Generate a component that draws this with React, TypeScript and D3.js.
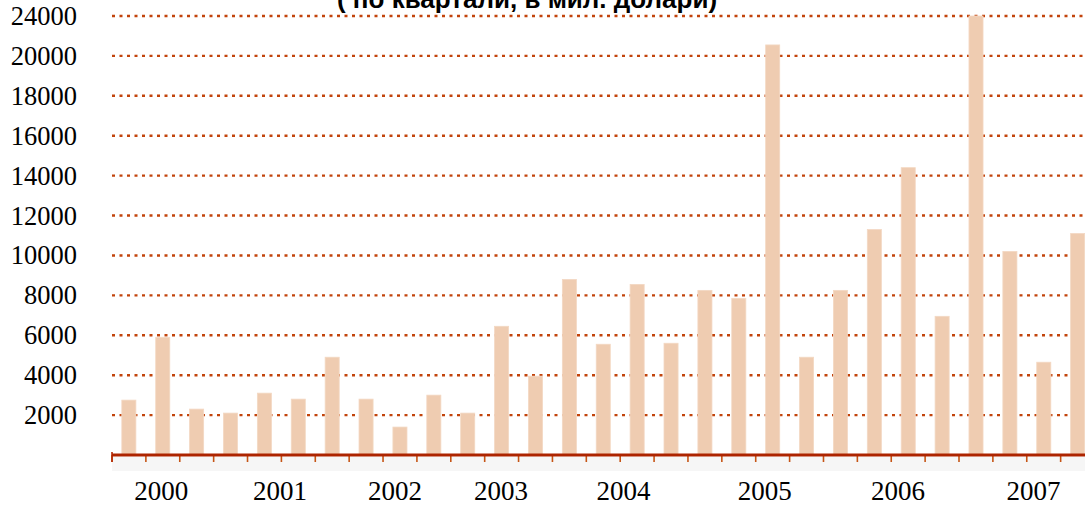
import React, { useEffect, useRef } from "react";
import * as d3 from "d3";

// quarterly values, 2000 Q1 .. 2007 Q1 (mil. USD)
const quarters = [
  "2000Q1", "2000Q2", "2000Q3", "2000Q4",
  "2001Q1", "2001Q2", "2001Q3", "2001Q4",
  "2002Q1", "2002Q2", "2002Q3", "2002Q4",
  "2003Q1", "2003Q2", "2003Q3", "2003Q4",
  "2004Q1", "2004Q2", "2004Q3", "2004Q4",
  "2005Q1", "2005Q2", "2005Q3", "2005Q4",
  "2006Q1", "2006Q2", "2006Q3", "2006Q4",
  "2007Q1",
];
const values = [
  2750, 5900, 2300, 2100,
  3100, 2800, 4900, 2800,
  1400, 3000, 2100, 6450,
  3950, 8800, 5550, 8550,
  5600, 8250, 7850, 20550,
  4900, 8250, 11300, 14400,
  6950, 22000, 10200, 4650,
  11100,
];

// y ticks and the labels printed next to them (top one reads 24000 in the original)
const tickValues = [2000, 4000, 6000, 8000, 10000, 12000, 14000, 16000, 18000, 20000, 22000];
const tickLabels = ["2000", "4000", "6000", "8000", "10000", "12000", "14000", "16000", "18000", "20000", "24000"];

// year labels and where they sit, in quarter steps from the left edge
const years = ["2000", "2001", "2002", "2003", "2004", "2005", "2006", "2007"];
const yearPos = [1.45, 4.96, 8.35, 11.48, 15.1, 19.27, 23.2, 27.2];

const title = "( по квартали, в мил. долари)";

const App = () => {
  const svgRef = useRef(null);

  useEffect(() => {
    const width = 1085;
    const left = 112;
    const step = 33.88;
    const base = 455;

    const svg = d3.select(svgRef.current);
    svg.selectAll("*").remove();

    const x = d3
      .scaleBand()
      .domain(quarters)
      .range([left, left + step * quarters.length])
      .paddingInner(0.585)
      .paddingOuter(0.29);
    const y = d3.scaleLinear().domain([0, 22000]).range([base, 16]);
    const q = d3.scaleLinear().domain([0, 1]).range([left, left + step]);

    // dotted grid lines (behind the bars)
    svg
      .selectAll(".grid")
      .data(tickValues)
      .enter()
      .append("line")
      .attr("x1", left)
      .attr("x2", width)
      .attr("y1", (d) => y(d))
      .attr("y2", (d) => y(d))
      .attr("stroke", "#c2440c")
      .attr("stroke-width", 2.4)
      .attr("stroke-dasharray", "3,4.5");

    // faint shadow below the axis
    svg
      .append("rect")
      .attr("x", left)
      .attr("y", base + 2)
      .attr("width", width - left)
      .attr("height", 14)
      .attr("fill", "#f6f6f6");

    // bars
    svg
      .selectAll(".bar")
      .data(values)
      .enter()
      .append("rect")
      .attr("x", (d, i) => x(quarters[i]))
      .attr("width", x.bandwidth())
      .attr("y", (d) => y(d))
      .attr("height", (d) => base - y(d))
      .attr("fill", "#efccb1")
      .attr("stroke", "#f3d8c3")
      .attr("stroke-width", 0.8);

    // tick marks at the category boundaries
    svg
      .selectAll(".tick")
      .data(d3.range(quarters.length + 1))
      .enter()
      .append("line")
      .attr("x1", (d) => q(d))
      .attr("x2", (d) => q(d))
      .attr("y1", base)
      .attr("y2", base + 7)
      .attr("stroke", "#c65516")
      .attr("stroke-width", 1.6);

    svg
      .append("line")
      .attr("x1", left)
      .attr("x2", left)
      .attr("y1", base - 3)
      .attr("y2", base + 7)
      .attr("stroke", "#b42a05")
      .attr("stroke-width", 1.6);

    // base line
    svg
      .append("line")
      .attr("x1", left)
      .attr("x2", width)
      .attr("y1", base)
      .attr("y2", base)
      .attr("stroke", "#ad2400")
      .attr("stroke-width", 3);

    // y labels
    svg
      .selectAll(".ylab")
      .data(tickValues)
      .enter()
      .append("text")
      .attr("x", 77)
      .attr("y", (d) => y(d))
      .attr("dy", "0.34em")
      .attr("text-anchor", "end")
      .style("font-family", "'Liberation Serif', 'Times New Roman', serif")
      .style("font-size", "26.5px")
      .style("fill", "#000")
      .text((d, i) => tickLabels[i]);

    // year labels
    svg
      .selectAll(".year")
      .data(years)
      .enter()
      .append("text")
      .attr("x", (d, i) => q(yearPos[i]))
      .attr("y", 500)
      .attr("text-anchor", "middle")
      .style("font-family", "'Liberation Serif', 'Times New Roman', serif")
      .style("font-size", "27px")
      .style("fill", "#000")
      .text((d) => d);

    // title, cut off at the top edge as in the original
    svg
      .append("text")
      .attr("x", 527)
      .attr("y", 8)
      .attr("text-anchor", "middle")
      .style("font-family", "'Liberation Sans', Arial, sans-serif")
      .style("font-size", "26px")
      .style("font-weight", "bold")
      .style("fill", "#000")
      .text(title);
  }, []);

  return (
    <svg
      ref={svgRef}
      width="1085"
      height="506"
      style={{ position: "absolute", left: 0, top: 0, background: "#fff" }}
    />
  );
};

export default App;
